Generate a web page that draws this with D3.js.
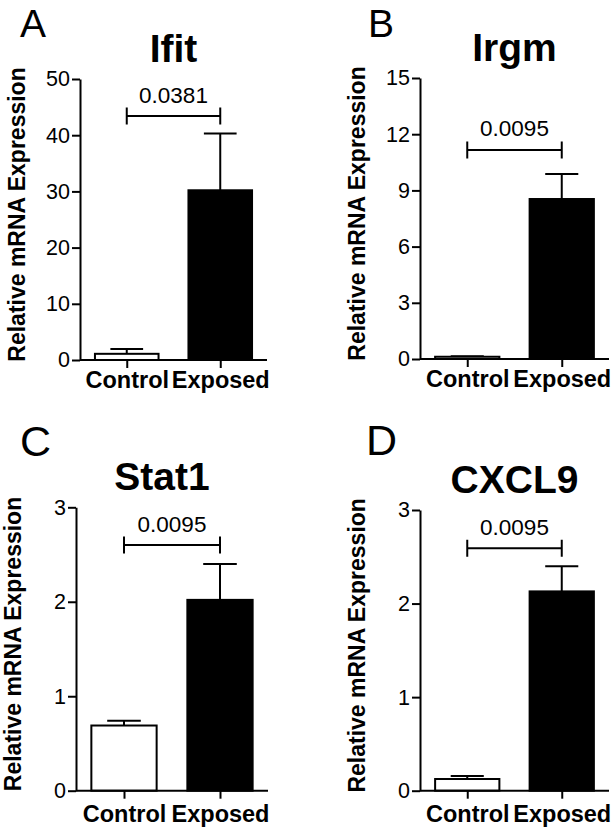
<!DOCTYPE html>
<html>
<head>
<meta charset="utf-8">
<script src="https://cdn.jsdelivr.net/npm/d3@7/dist/d3.min.js"></script>
<style>
  html, body { margin: 0; padding: 0; background: #fff; }
  svg { display: block; font-family: "Liberation Sans", Arial, sans-serif; }
</style>
</head>
<body>
<svg id="chart" width="614" height="833"></svg>
<script>
// ---------- data ----------
const categories = ["Control", "Exposed"];
const genes = ["Ifit", "Irgm", "Stat1", "CXCL9"];
const panelLetters = ["A", "B", "C", "D"];
const controlMean = [1.1, 0.12, 0.69, 0.125];
const controlSEM = [0.85, 0.03, 0.05, 0.032];
const exposedMean = [30.2, 8.54, 2.02, 2.13];
const exposedSEM = [10.1, 1.34, 0.38, 0.27];
const pValues = ["0.0381", "0.0095", "0.0095", "0.0095"];
const yMax = [50, 15, 3, 3];
const yStep = [10, 3, 1, 1];
const bracketLevel = [43.4, 11.16, 2.6, 2.59];
const yAxisTitle = "Relative mRNA Expression";

// ---------- layout ----------
const layout = [
  { x0: 80,  x1: 267, yb: 360,   yt: 79,    lx: 20,  ly: 37,  ls: 39, tx: 0,   ty: 62,  xPad: 3 },
  { x0: 420, x1: 609, yb: 359,   yt: 78,    lx: 368, ly: 37,  ls: 39, tx: 0,   ty: 61,  xPad: 3 },
  { x0: 76,  x1: 268, yb: 790.7, yt: 507.3, lx: 20,  ly: 456, ls: 43, tx: -10, ty: 490, xPad: 7 },
  { x0: 420, x1: 609, yb: 790.7, yt: 510,   lx: 366, ly: 455, ls: 43, tx: 0,   ty: 493, xPad: 7 }
];

const FONT = '"Liberation Sans", Arial, sans-serif';
const svg = d3.select("#chart");
svg.append("rect").attr("width", 614).attr("height", 833).attr("fill", "#fff");

genes.forEach((gene, i) => {
  const L = layout[i];
  const g = svg.append("g");

  const y = d3.scaleLinear().domain([0, yMax[i]]).range([L.yb, L.yt]);
  const x = d3.scalePoint().domain(categories).range([L.x0, L.x1]).padding(0.5);
  const step = x.step();
  const bw = step * 0.68;
  const cw = step * 0.35;

  const means = [controlMean[i], exposedMean[i]];
  const sems = [controlSEM[i], exposedSEM[i]];
  const fills = ["#fff", "#000"];

  // bars
  categories.forEach((c, k) => {
    const cx = x(c);
    const top = y(means[k]);
    const et = y(means[k] + sems[k]);
    g.append("line").attr("x1", cx).attr("x2", cx).attr("y1", top).attr("y2", et)
      .attr("stroke", "#000").attr("stroke-width", 2);
    g.append("line").attr("x1", cx - cw / 2).attr("x2", cx + cw / 2).attr("y1", et).attr("y2", et)
      .attr("stroke", "#000").attr("stroke-width", 2);
    g.append("rect").attr("x", cx - bw / 2).attr("y", top)
      .attr("width", bw).attr("height", L.yb - top)
      .attr("fill", fills[k]).attr("stroke", "#000").attr("stroke-width", 2);
  });

  // y axis
  const yAxis = d3.axisLeft(y)
    .tickValues(d3.range(0, yMax[i] + yStep[i] / 2, yStep[i]))
    .tickSize(8).tickSizeOuter(0).tickPadding(2)
    .tickFormat(d3.format("d"));
  const ya = g.append("g").attr("transform", `translate(${L.x0},0)`).call(yAxis);
  ya.select(".domain").attr("stroke-width", 2);
  ya.selectAll(".tick line").attr("stroke-width", 2);
  ya.selectAll(".tick text").attr("font-size", 21.5).attr("font-family", FONT).attr("fill", "#000");

  // x axis
  const xAxis = d3.axisBottom(x).tickSize(8).tickSizeOuter(0).tickPadding(L.xPad);
  const xa = g.append("g").attr("transform", `translate(0,${L.yb})`).call(xAxis);
  xa.select(".domain").attr("d", `M${L.x0},0H${L.x1}`).attr("stroke-width", 2);
  xa.selectAll(".tick line").attr("stroke-width", 2);
  xa.selectAll(".tick text").attr("font-size", 23.5).attr("font-weight", "bold")
    .attr("font-family", FONT).attr("fill", "#000");

  // y-axis title
  g.append("text")
    .attr("transform", `translate(${L.x0 - 55},${(L.yb + L.yt) / 2 - 5}) rotate(-90)`)
    .attr("text-anchor", "middle").attr("font-size", 23).attr("font-weight", "bold")
    .text(yAxisTitle);

  // significance bracket
  const by = y(bracketLevel[i]);
  const bx1 = x(categories[0]), bx2 = x(categories[1]);
  g.append("path")
    .attr("d", `M${bx1},${by - 8.5}V${by + 8.5}M${bx1},${by}H${bx2}M${bx2},${by - 8.5}V${by + 8.5}`)
    .attr("stroke", "#000").attr("stroke-width", 2).attr("fill", "none");
  g.append("text").attr("x", (bx1 + bx2) / 2).attr("y", by - 13.5)
    .attr("text-anchor", "middle").attr("font-size", 22.5).text(pValues[i]);

  // title
  g.append("text").attr("x", (L.x0 + L.x1) / 2 + L.tx).attr("y", L.ty)
    .attr("text-anchor", "middle").attr("font-size", 39).attr("font-weight", "bold")
    .text(gene);

  // panel letter
  g.append("text").attr("x", L.lx).attr("y", L.ly)
    .attr("font-size", L.ls).text(panelLetters[i]);
});
</script>
</body>
</html>
